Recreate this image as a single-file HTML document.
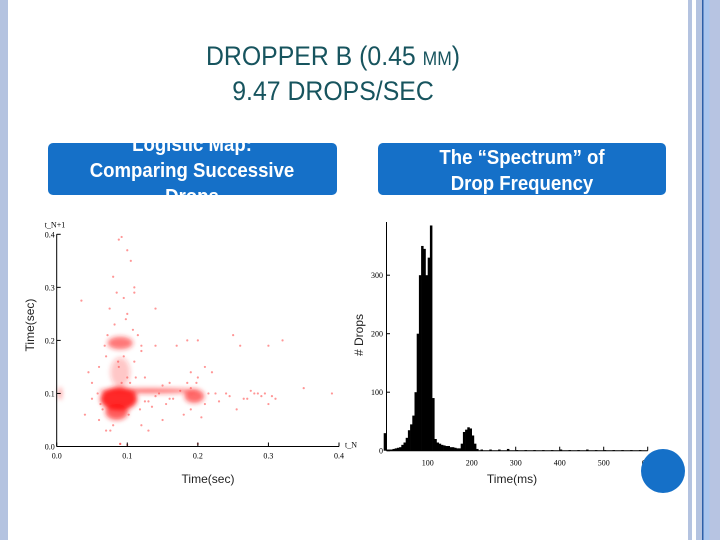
<!DOCTYPE html>
<html><head><meta charset="utf-8"><style>
body{margin:0;background:#fff;}
svg{display:block;font-family:"Liberation Sans",sans-serif;}
</style></head><body>
<svg id="s" width="720" height="540" viewBox="0 0 720 540">
<defs>
<clipPath id="cl"><rect x="48" y="143" width="289" height="52" rx="5"/></clipPath>
<filter id="blur" x="-50%" y="-50%" width="200%" height="200%"><feGaussianBlur stdDeviation="2.5"/></filter>
</defs>
<rect x="0" y="0" width="8" height="540" fill="#b4c3e0"/>
<g>
<rect x="688" y="0" width="4" height="540" fill="#b4c3e0"/>
<rect x="696" y="0" width="6" height="540" fill="#b4c3e0"/>
<rect x="702" y="0" width="1.5" height="540" fill="#2d5fa8"/>
<rect x="703.5" y="0" width="6" height="540" fill="#a9c5ee"/>
<rect x="709.5" y="0" width="10.5" height="540" fill="#b7c4e2"/>
</g>
<text x="333" y="65" text-anchor="middle" font-size="27" fill="#17545e" transform="translate(333 0) scale(0.92 1) translate(-333 0)">DROPPER B (0.45 <tspan font-size="19">MM</tspan>)</text>
<text x="333" y="100" text-anchor="middle" font-size="27" fill="#17545e" transform="translate(333 0) scale(0.92 1) translate(-333 0)">9.47 DROPS/SEC</text>
<g>
<rect x="48" y="143" width="289" height="52" rx="5" fill="#1570c8"/>
<g clip-path="url(#cl)" fill="#fff" font-size="20" font-weight="bold" text-anchor="middle" transform="translate(192 0) scale(0.93 1) translate(-192 0)">
<text x="192" y="151">Logistic Map:</text>
<text x="192" y="177">Comparing Successive</text>
<text x="192" y="203">Drops</text></g></g>
<g>
<rect x="378" y="143" width="288" height="52" rx="5" fill="#1570c8"/>
<g fill="#fff" font-size="20" font-weight="bold" text-anchor="middle" transform="translate(522 0) scale(0.93 1) translate(-522 0)">
<text x="522" y="164">The “Spectrum” of</text>
<text x="522" y="190">Drop Frequency</text></g></g>
<g id="scatter"><g id="clusters" filter="url(#blur)"></g></g>
<g id="hist"></g>
<text x="34" y="325" transform="rotate(-90 34 325)" text-anchor="middle" font-size="12" fill="#222">Time(sec)</text>
<text x="208" y="483" text-anchor="middle" font-size="12" fill="#222">Time(sec)</text>
<text x="363" y="335" transform="rotate(-90 363 335)" text-anchor="middle" font-size="12" fill="#222"># Drops</text>
<text x="512" y="483" text-anchor="middle" font-size="12" fill="#222">Time(ms)</text>
<circle cx="663" cy="471" r="22" fill="#1570c8"/>
</svg>
<script>
const NS="http://www.w3.org/2000/svg";
// scatter data
const clusterX=[0.088,0.09,0.195,0.13,0.09,0.005,0.085];
const clusterY=[0.09,0.195,0.095,0.105,0.14,0.1,0.065];
const clusterSX=[0.026,0.018,0.014,0.07,0.014,0.002,0.016];
const clusterSY=[0.022,0.012,0.013,0.005,0.028,0.012,0.015];
const clusterA=[0.95,0.6,0.65,0.6,0.25,0.5,0.7];
const ptX=[0.088,0.092,0.1,0.105,0.08,0.11,0.095,0.085,0.075,0.11,0.035,0.14,0.17,0.185,0.2,0.25,0.26,0.3,0.32,0.35,0.39,0.28,0.29,0.24,0.23,0.06,0.05,0.045,0.13,0.15,0.16,0.12,0.14,0.21,0.22,0.27,0.31,0.3,0.285,0.255,0.07,0.1,0.12,0.065,0.09,0.2,0.19,0.18,0.205,0.155,0.165,0.06,0.04,0.145,0.125,0.082,0.098,0.108,0.09,0.1,0.11,0.112,0.088,0.095,0.104,0.072,0.068,0.115,0.12,0.13,0.135,0.14,0.15,0.16,0.175,0.185,0.19,0.2,0.21,0.215,0.225,0.245,0.265,0.275,0.295,0.305,0.08,0.076,0.07,0.062,0.058,0.05,0.1,0.092,0.087,0.102,0.118,0.125,0.19,0.198];
const ptY=[0.39,0.395,0.37,0.35,0.32,0.3,0.28,0.29,0.26,0.29,0.275,0.26,0.19,0.2,0.2,0.21,0.19,0.19,0.2,0.11,0.1,0.1,0.095,0.1,0.085,0.05,0.12,0.14,0.03,0.05,0.12,0.18,0.19,0.15,0.14,0.09,0.09,0.08,0.1,0.07,0.17,0.25,0.04,0.07,0.005,0.005,0.11,0.06,0.055,0.08,0.09,0.15,0.06,0.1,0.085,0.23,0.24,0.22,0.005,0.003,0.16,0.13,0.15,0.17,0.12,0.21,0.19,0.21,0.19,0.085,0.075,0.095,0.115,0.09,0.105,0.12,0.14,0.13,0.08,0.1,0.1,0.095,0.09,0.105,0.1,0.095,0.04,0.03,0.03,0.08,0.1,0.09,0.13,0.12,0.16,0.06,0.07,0.13,0.07,0.12];
// histogram data (5 ms bins starting at 0)
const binStart=[0,5,10,15,20,25,30,35,40,45,50,55,60,65,70,75,80,85,90,95,100,105,110,115,120,125,130,135,140,145,150,155,160,165,170,175,180,185,190,195,200,205,210,220,240,260,280,300,320,340,360,380,400,420,440,460,480,500,520,540,560,580];
const binCount=[30,2,2,2,3,4,5,6,10,14,22,35,45,60,100,200,300,350,345,300,330,385,90,20,14,12,10,9,8,8,6,6,5,4,4,12,32,36,40,38,26,12,3,2,2,2,3,1,1,1,1,1,2,1,1,2,1,1,1,1,1,1];
const binW=5;
const xTicksS=[0,0.1,0.2,0.3,0.4], yTicksS=[0,0.1,0.2,0.3,0.4];
const xTicksH=[100,200,300,400,500,600], yTicksH=[0,100,200,300];

function mk(p,tag,at){const e=document.createElementNS(NS,tag);for(const k in at)e.setAttribute(k,at[k]);p.appendChild(e);return e;}
const sx=v=>56.7+v*(339-56.7)/0.4, sy=v=>446.5-v*(446.5-234.3)/0.4;
const sc=document.getElementById('scatter');
const cg=document.getElementById('clusters');
clusterX.forEach((c,i)=>{const e=mk(cg,'ellipse',{cx:sx(c),cy:sy(clusterY[i]),rx:sx(clusterSX[i])-sx(0),ry:sy(0)-sy(clusterSY[i]),fill:'#ff1a1a','fill-opacity':clusterA[i]});

});
ptX.forEach((x,i)=>{const e=mk(sc,'circle',{cx:sx(x),cy:sy(ptY[i]),r:1.1,fill:'#ff4040','fill-opacity':0.55});

});
mk(sc,'line',{x1:sx(0),y1:sy(0),x2:sx(0.4),y2:sy(0),stroke:'#000'});
mk(sc,'line',{x1:sx(0),y1:sy(0),x2:sx(0),y2:sy(0.4),stroke:'#000'});
xTicksS.forEach(t=>{mk(sc,'line',{x1:sx(t),y1:sy(0),x2:sx(t),y2:sy(0)-4,stroke:'#000'});
const tx=mk(sc,'text',{x:sx(t),y:sy(0)+12,'font-size':8,'text-anchor':'middle','font-family':'Liberation Serif'});tx.textContent=t.toFixed(1);

});
yTicksS.forEach(t=>{mk(sc,'line',{x1:sx(0),y1:sy(t),x2:sx(0)+4,y2:sy(t),stroke:'#000'});
const tx=mk(sc,'text',{x:sx(0)-2,y:sy(t)+3,'font-size':8,'text-anchor':'end','font-family':'Liberation Serif'});tx.textContent=t.toFixed(1);

});
let t1=mk(sc,'text',{x:sx(0)-12,y:sy(0.4)-7,'font-size':8,'font-family':'Liberation Serif'});t1.textContent='t_N+1';
let t2=mk(sc,'text',{x:sx(0.4)+6,y:sy(0)+1,'font-size':8,'font-family':'Liberation Serif'});t2.textContent='t_N';
const hx=v=>383.7+v*0.44, hy=v=>450.7-v*0.585;
const hg=document.getElementById('hist');
binStart.forEach((b,i)=>{const e=mk(hg,'rect',{x:hx(b),y:hy(binCount[i]),width:hx(b+binW)-hx(b)+0.3,height:hy(0)-hy(binCount[i]),fill:'#000'});

});
mk(hg,'line',{x1:386.5,y1:hy(0),x2:hx(600),y2:hy(0),stroke:'#000'});
mk(hg,'line',{x1:386.5,y1:hy(0),x2:386.5,y2:222,stroke:'#000'});
xTicksH.forEach(t=>{mk(hg,'line',{x1:hx(t),y1:hy(0),x2:hx(t),y2:hy(0)-4,stroke:'#000'});
const tx=mk(hg,'text',{x:hx(t),y:hy(0)+15,'font-size':8,'text-anchor':'middle','font-family':'Liberation Serif'});tx.textContent=t;

});
yTicksH.forEach(t=>{mk(hg,'line',{x1:386.5,y1:hy(t),x2:390,y2:hy(t),stroke:'#000'});
const tx=mk(hg,'text',{x:383,y:hy(t)+3,'font-size':8,'text-anchor':'end','font-family':'Liberation Serif'});tx.textContent=t;

});
</script>
</body></html>
